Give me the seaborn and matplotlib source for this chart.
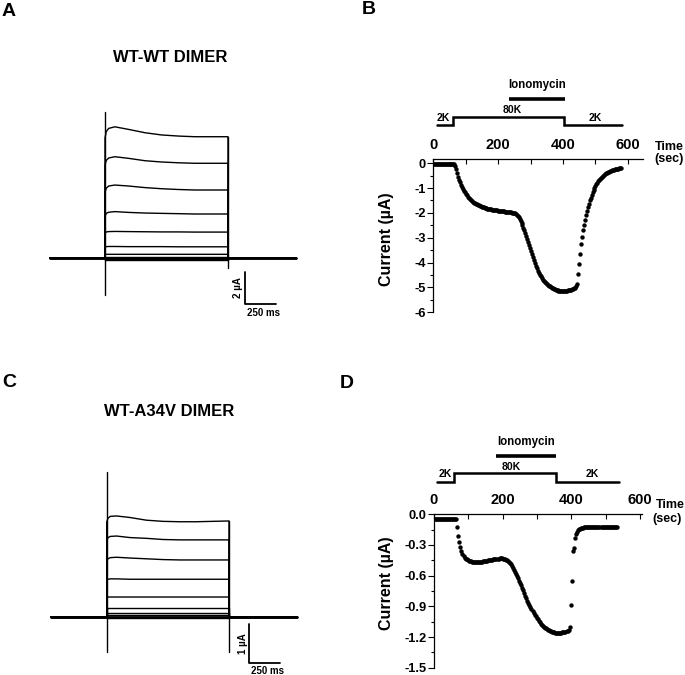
import matplotlib
matplotlib.use("Agg")
import matplotlib.pyplot as plt
import seaborn as sns

W, H = 685, 675

# ---- panel A / C : voltage-step current families (ms, uA) ----
step_time = [0, 10, 30, 80, 190, 325, 460, 600, 730, 1000]
a_traces = [
    [7.5, 7.9, 8.1, 8.2, 8.04, 7.83, 7.69, 7.62, 7.58, 7.58],
    [5.8, 6.1, 6.25, 6.33, 6.23, 6.08, 6.0, 5.95, 5.92, 5.92],
    [4.1, 4.36, 4.5, 4.56, 4.5, 4.4, 4.33, 4.28, 4.25, 4.25],
    [2.6, 2.79, 2.86, 2.9, 2.85, 2.81, 2.79, 2.77, 2.75, 2.75],
    [1.55, 1.63, 1.65, 1.66, 1.65, 1.64, 1.63, 1.63, 1.62, 1.62],
    [0.68, 0.71, 0.72, 0.72, 0.71, 0.71, 0.71, 0.7, 0.7, 0.7],
    [0.22, 0.23, 0.23, 0.23, 0.23, 0.23, 0.23, 0.23, 0.23, 0.23],
    [0.08, 0.08, 0.08, 0.08, 0.08, 0.08, 0.08, 0.08, 0.08, 0.08],
    [-0.05, -0.05, -0.05, -0.05, -0.05, -0.05, -0.05, -0.05, -0.05, -0.05],
    [-0.12, -0.12, -0.12, -0.12, -0.12, -0.12, -0.12, -0.12, -0.12, -0.12],
]
a_spike_on = [9.15, -2.3]
a_spike_off = [7.58, -0.6]
a_window = [-450, 1550]
a_scale = [2, 250]

c_traces = [
    [2.45, 2.55, 2.6, 2.61, 2.57, 2.5, 2.47, 2.46, 2.46, 2.48],
    [1.95, 2.05, 2.08, 2.09, 2.05, 2.03, 2.0, 1.99, 1.99, 1.99],
    [1.45, 1.5, 1.53, 1.54, 1.52, 1.5, 1.48, 1.47, 1.47, 1.47],
    [0.95, 0.97, 0.98, 0.98, 0.97, 0.97, 0.97, 0.97, 0.97, 0.97],
    [0.5, 0.51, 0.51, 0.51, 0.51, 0.51, 0.51, 0.51, 0.51, 0.51],
    [0.23, 0.23, 0.23, 0.23, 0.23, 0.23, 0.23, 0.23, 0.23, 0.23],
    [0.1, 0.1, 0.1, 0.1, 0.1, 0.1, 0.1, 0.1, 0.1, 0.1],
    [0.04, 0.04, 0.04, 0.04, 0.04, 0.04, 0.04, 0.04, 0.04, 0.04],
    [-0.04, -0.04, -0.04, -0.04, -0.04, -0.04, -0.04, -0.04, -0.04, -0.04],
]
c_spike_on = [3.76, -0.92]
c_spike_off = [2.48, -0.92]
c_window = [-458, 1554]
c_scale = [1, 250]

# ---- panel B / D : current vs time (sec, uA), sampled every 3 s from t=2 ----
b_current = [
    -0.05, -0.05, -0.05, -0.05, -0.05, -0.05, -0.05, -0.05, -0.05, -0.05, -0.05,
    -0.05, -0.05, -0.05, -0.05, -0.05, -0.05, -0.05, -0.05, -0.05, -0.05, -0.05,
    -0.10, -0.23, -0.38, -0.54, -0.66, -0.77, -0.87, -0.96, -1.05, -1.11, -1.17,
    -1.23, -1.29, -1.34, -1.39, -1.45, -1.49, -1.52, -1.56, -1.59, -1.61, -1.64,
    -1.66, -1.68, -1.70, -1.72, -1.74, -1.76, -1.77, -1.78, -1.79, -1.81, -1.82,
    -1.83, -1.84, -1.85, -1.85, -1.86, -1.87, -1.88, -1.88, -1.89, -1.90, -1.90,
    -1.91, -1.92, -1.92, -1.93, -1.93, -1.94, -1.94, -1.95, -1.95, -1.96, -1.96,
    -1.97, -1.97, -1.98, -1.99, -1.99, -2.00, -2.01, -2.03, -2.07, -2.11, -2.16,
    -2.24, -2.33, -2.41, -2.50, -2.59, -2.69, -2.79, -2.92, -3.05, -3.18, -3.30,
    -3.43, -3.55, -3.67, -3.79, -3.90, -4.02, -4.12, -4.22, -4.32, -4.40, -4.48,
    -4.55, -4.62, -4.68, -4.73, -4.78, -4.82, -4.86, -4.90, -4.93, -4.96, -4.99,
    -5.01, -5.04, -5.06, -5.08, -5.10, -5.11, -5.12, -5.13, -5.14, -5.14, -5.15,
    -5.15, -5.15, -5.15, -5.14, -5.14, -5.13, -5.12, -5.12, -5.11, -5.10, -5.08,
    -5.06, -5.04, -5.01, -4.95, -4.85, -4.45, -4.05, -3.65, -3.25, -2.95, -2.70,
    -2.49, -2.29, -2.10, -1.93, -1.78, -1.64, -1.50, -1.38, -1.27, -1.16, -1.07,
    -0.99, -0.92, -0.85, -0.79, -0.73, -0.68, -0.63, -0.58, -0.54, -0.51, -0.47,
    -0.44, -0.41, -0.39, -0.37, -0.35, -0.33, -0.31, -0.29, -0.28, -0.26, -0.25,
    -0.24, -0.23, -0.22, -0.21, -0.21, -0.20,
]
b_time = list(range(2, 2 + 3 * len(b_current), 3))

d_current = [
    -0.045, -0.045, -0.045, -0.045, -0.045, -0.045, -0.045, -0.045, -0.045, -0.045, -0.045,
    -0.045, -0.045, -0.045, -0.045, -0.045, -0.045, -0.045, -0.045, -0.045, -0.045, -0.045,
    -0.12, -0.21, -0.27, -0.32, -0.36, -0.39, -0.41, -0.425, -0.435, -0.44, -0.45,
    -0.455, -0.46, -0.46, -0.465, -0.465, -0.47, -0.47, -0.47, -0.47, -0.47, -0.468,
    -0.466, -0.464, -0.462, -0.46, -0.458, -0.456, -0.454, -0.452, -0.45, -0.448, -0.446,
    -0.444, -0.442, -0.44, -0.438, -0.436, -0.435, -0.434, -0.433, -0.432, -0.432, -0.432,
    -0.433, -0.435, -0.438, -0.442, -0.448, -0.455, -0.465, -0.478, -0.49, -0.505, -0.525,
    -0.545, -0.565, -0.585, -0.605, -0.625, -0.648, -0.67, -0.695, -0.72, -0.745, -0.77,
    -0.795, -0.82, -0.845, -0.865, -0.885, -0.905, -0.925, -0.945, -0.962, -0.98, -0.995,
    -1.01, -1.025, -1.04, -1.055, -1.068, -1.08, -1.09, -1.10, -1.108, -1.116, -1.123,
    -1.13, -1.136, -1.141, -1.145, -1.149, -1.152, -1.155, -1.157, -1.158, -1.159, -1.159,
    -1.158, -1.157, -1.156, -1.155, -1.153, -1.151, -1.149, -1.146, -1.142, -1.13, -1.10,
    -0.89, -0.65, -0.36, -0.33, -0.23, -0.19, -0.17, -0.155, -0.145, -0.14, -0.135,
    -0.132, -0.13, -0.128, -0.126, -0.125, -0.124, -0.123, -0.122, -0.121, -0.12, -0.12,
    -0.12, -0.12, -0.12, -0.121, -0.121, -0.122, -0.122, -0.123, -0.123, -0.124, -0.124,
    -0.125, -0.125, -0.125, -0.126, -0.126, -0.126, -0.127, -0.127, -0.127, -0.127, -0.127,
    -0.127, -0.128,
]
d_time = list(range(2, 2 + 3 * len(d_current), 3))

# solution protocol: 2K -> 80K -> 2K switch times, ionomycin on/off (sec)
b_solution = [10, 60, 403, 582]
b_iono = [234, 407]
b_solution_labels = [("2K", 31), ("80K", 242), ("2K", 500)]
d_solution = [10, 58, 356, 538]
d_iono = [181, 354]
d_solution_labels = [("2K", 32), ("80K", 226), ("2K", 460)]

sns.set_theme(style="white")
plt.rcParams["font.family"] = ["Liberation Sans", "DejaVu Sans"]
plt.rcParams["axes.unicode_minus"] = False
plt.rcParams["font.weight"] = "bold"
plt.rcParams.update({"text.color": "black", "axes.labelcolor": "black",
                     "xtick.color": "black", "ytick.color": "black"})

fig = plt.figure(figsize=(W / 100, H / 100), dpi=100)


def box(x0, y0, x1, y1):
    # pixel box (top-left origin) -> figure fraction rect
    return [x0 / W, 1 - y1 / H, (x1 - x0) / W, (y1 - y0) / H]


def draw_family(rect, xlim, ylim, traces, spike_on, spike_off, window, scale, bar_at, txt):
    ax = fig.add_axes(rect)
    for vals in traces:
        t = [window[0], 0] + step_time + [step_time[-1], window[1]]
        v = [0, 0] + vals + [0, 0]
        sns.lineplot(x=t, y=v, ax=ax, color="black", lw=1.0, estimator=None, sort=False)
    sns.lineplot(x=window, y=[0, 0], ax=ax, color="black", lw=2.0, estimator=None, sort=False)
    sns.lineplot(x=[0, 0], y=spike_on, ax=ax, color="black", lw=1.0, estimator=None, sort=False)
    sns.lineplot(x=[step_time[-1]] * 2, y=spike_off, ax=ax, color="black", lw=1.0,
                 estimator=None, sort=False)
    bx, by = bar_at
    ax.plot([bx, bx, bx + scale[1]], [by, by - scale[0], by - scale[0]], color="black", lw=1.3)
    ax.text(bx - 55, by - scale[0] / 2, txt, rotation=90, ha="center", va="center", fontsize=7)
    ax.text(bx + scale[1] * 0.6, by - scale[0] - 0.55 * (ylim[1] - ylim[0]) / 14, "250 ms",
            ha="center", va="center", fontsize=7)
    ax.set_xlim(xlim)
    ax.set_ylim(ylim)
    ax.axis("off")
    return ax


draw_family(box(30, 95, 310, 320), ((30 - 105) / 0.123, (310 - 105) / 0.123),
            ((258 - 320) / 16, (258 - 95) / 16), a_traces, a_spike_on, a_spike_off,
            a_window, a_scale, (1138, -0.875), "2 µA")
draw_family(box(30, 455, 310, 675), ((30 - 106.7) / 0.1223, (310 - 106.7) / 0.1223),
            ((616.7 - 675) / 38.6, (616.7 - 455) / 38.6), c_traces, c_spike_on, c_spike_off,
            c_window, c_scale, (1166, -0.195), "1 µA")


def draw_time_course(rect, xlim, ylim, t, cur, yticks, yminor, fmt, label_xy,
                     solution, iono, sol_labels, lv):
    ax = fig.add_axes(rect)
    sns.scatterplot(x=t, y=cur, ax=ax, color="black", s=10, linewidth=0, legend=False)
    ax.set_xlim(xlim)
    ax.set_ylim(ylim)
    for side in ["right", "bottom"]:
        ax.spines[side].set_visible(False)
    for side in ["top", "left"]:
        ax.spines[side].set_color("black")
        ax.spines[side].set_linewidth(0.9)
    ax.xaxis.tick_top()
    ax.set_xticks([0, 200, 400, 600])
    ax.set_xticks([100, 300, 500], minor=True)
    ax.set_xticklabels(["0", "200", "400", "600"], fontsize=10.5, fontweight="bold")
    ax.tick_params(axis="x", which="both", direction="in", length=3.5, width=0.8,
                   pad=5, top=True, bottom=False, colors="black")
    ax.set_yticks(yticks)
    ax.set_yticks(yminor, minor=True)
    ax.set_yticklabels([fmt % v for v in yticks], fontsize=9.3, fontweight="bold")
    ax.tick_params(axis="y", which="major", direction="out", length=4, width=0.8, pad=1.5,
                   left=True, colors="black")
    ax.tick_params(axis="y", which="minor", direction="out", length=2.5, width=0.8, left=True)
    ax.set_ylabel("Current (µA)", fontsize=11.5, fontweight="bold")
    ax.yaxis.set_label_coords(*label_xy)
    ax.grid(False)

    # solution protocol drawn above the time axis (y in pixels above axis line)
    pr = ax.get_position()
    ap = fig.add_axes([pr.x0, pr.y1, pr.width, 80 / H])
    ap.set_xlim(xlim)
    ap.set_ylim(0, 80)
    ap.axis("off")
    low, high, bar = lv
    s0, s1, s2, s3 = solution
    ap.plot([s0, s1, s1, s2, s2, s3], [low, low, high, high, low, low], color="black",
            lw=1.8, solid_joinstyle="miter")
    ap.plot(iono, [bar, bar], color="black", lw=2.6, solid_capstyle="butt")
    ap.text(sum(iono) / 2, bar + 14, "Ionomycin", ha="center", va="center", fontsize=8.3,
            fontweight="bold")
    for name, x in sol_labels:
        yy = high + 6.5 if name == "80K" else high - 1
        ap.text(x, yy, name, ha="center", va="center", fontsize=7.5, fontweight="bold")
    return ax


ax_b = draw_time_course(box(433.3, 159, 643.3, 312.3), (0, 647.5), (-6, 0.17),
                        b_time, b_current, [-6, -5, -4, -3, -2, -1, 0],
                        [-5.5, -4.5, -3.5, -2.5, -1.5, -0.5], "%d", (-0.187, 0.474),
                        b_solution, b_iono, b_solution_labels, (34, 42.3, 59.7))
ax_d = draw_time_course(box(434, 514.3, 641.7, 667.7), (0, 605), (-1.5, 0),
                        d_time, d_current, [-1.5, -1.2, -0.9, -0.6, -0.3, 0.0],
                        [-1.35, -1.05, -0.75, -0.45, -0.15], "%.1f", (-0.193, 0.55),
                        d_solution, d_iono, d_solution_labels, (32.6, 41, 58.3))

for (x, y), s in [((669, 147), "Time"), ((669, 159), "(sec)"),
                  ((670, 505), "Time"), ((667, 519), "(sec)")]:
    fig.text(x / W, 1 - y / H, s, ha="center", va="center", fontsize=9, fontweight="bold")

fig.text(170 / W, 1 - 57 / H, "WT-WT DIMER", ha="center", va="center", fontsize=12,
         fontweight="bold")
fig.text(169 / W, 1 - 412 / H, "WT-A34V DIMER", ha="center", va="center", fontsize=12,
         fontweight="bold")
for (x, y), s in [((2, 11), "A"), ((362, 10), "B"), ((2, 383), "C"), ((340, 384), "D")]:
    fig.text(x / W, 1 - y / H, s, ha="left", va="center", fontsize=14, fontweight="bold")

fig.savefig("out.png", dpi=100)
